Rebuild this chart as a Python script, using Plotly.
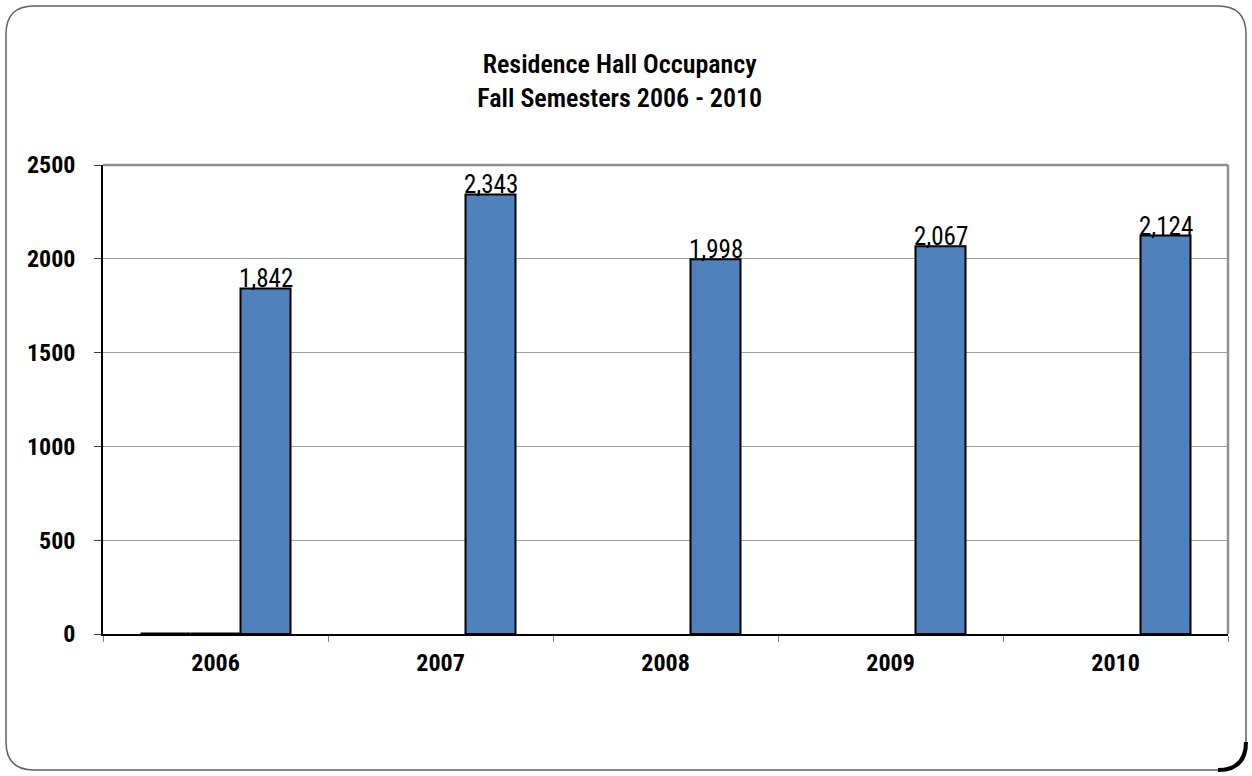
import plotly.graph_objects as go

years = ["2006", "2007", "2008", "2009", "2010"]
series_a = [0, None, None, None, None]
series_b = [0, None, None, None, None]
occupancy = [1842, 2343, 1998, 2067, 2124]
y_ticks = [0, 500, 1000, 1500, 2000, 2500]

FONT = "Liberation Sans Narrow, Arial Narrow, Roboto Condensed, sans-serif"
W, H = 1252, 776
L, R, T, B = 103, 1228, 165, 634


def px(x):
    return (x - L) / (R - L)


def py(y):
    return (B - y) / (B - T)


def rounded_rect(x0, y0, x1, y1, r):
    pts = [
        f"M {px(x0 + r)},{py(y0)}",
        f"L {px(x1 - r)},{py(y0)}",
        f"Q {px(x1)},{py(y0)} {px(x1)},{py(y0 + r)}",
        f"L {px(x1)},{py(y1 - r)}",
        f"Q {px(x1)},{py(y1)} {px(x1 - r)},{py(y1)}",
        f"L {px(x0 + r)},{py(y1)}",
        f"Q {px(x0)},{py(y1)} {px(x0)},{py(y1 - r)}",
        f"L {px(x0)},{py(y0 + r)}",
        f"Q {px(x0)},{py(y0)} {px(x0 + r)},{py(y0)}",
        "Z",
    ]
    return " ".join(pts)


def corner_br(x1, y1, r):
    return (f"M {px(x1 - r)},{py(y1)} "
            f"Q {px(x1)},{py(y1)} {px(x1)},{py(y1 - r)}")


fig = go.Figure()
line = dict(color="black", width=2)
fig.add_bar(x=years, y=series_a, marker=dict(color="#4F81BD", line=dict(color="black", width=3)),
            showlegend=False)
fig.add_bar(x=years, y=series_b, marker=dict(color="#4F81BD", line=dict(color="black", width=3)),
            showlegend=False)
fig.add_bar(
    x=years, y=occupancy,
    marker=dict(color="#4F81BD", line=line),
    showlegend=False,
)

n_series = 3
bar_gap = 1 / 3
group_w = 1 - bar_gap
third_offset = -group_w / 2 + group_w / n_series * 2.5  # center of third bar in category units

annotations = [
    dict(x=i + third_offset, y=v, xref="x", yref="y", text=f"{v:,}", showarrow=False,
         xanchor="center", yanchor="bottom", yshift=-7,
         font=dict(family=FONT, size=25, color="black"))
    for i, v in enumerate(occupancy)
]

fig.update_layout(
    width=W, height=H,
    margin=dict(l=L, r=W - R, t=T, b=H - B, pad=0),
    paper_bgcolor="white", plot_bgcolor="white",
    barmode="group", bargap=bar_gap, bargroupgap=0,
    font=dict(family=FONT, color="black"),
    title=dict(
        text="Residence Hall Occupancy<br>Fall Semesters 2006 - 2010",
        x=0.495, xanchor="center", y=1 - 73 / H, yanchor="middle",
        font=dict(family=FONT, size=26, color="black", weight=600),
    ),
    xaxis=dict(
        type="category", categoryorder="array", categoryarray=years,
        range=[-0.5, len(years) - 0.5],
        tickson="boundaries", ticks="outside", ticklen=6,
        tickcolor="#808080", tickwidth=1,
        showline=True, linecolor="black", linewidth=1.5,
        showgrid=False, tickfont=dict(family=FONT, size=24, color="black", weight="bold"),
        ticklabelstandoff=6, tickangle=0,
    ),
    yaxis=dict(
        range=[0, 2500], tickvals=y_ticks, ticktext=[str(v) for v in y_ticks],
        ticks="outside", ticklen=7, tickcolor="#404040",
        showline=True, linecolor="black", linewidth=1.5,
        showgrid=True, gridcolor="#A0A0A0", gridwidth=1,
        zeroline=False,
        tickfont=dict(family=FONT, size=24, color="black", weight="bold"),
        ticklabelstandoff=14,
    ),
    annotations=annotations,
    shapes=[
        dict(type="line", xref="paper", yref="paper", x0=0, x1=1, y0=1, y1=1,
             line=dict(color="#909090", width=2.5)),
        dict(type="line", xref="paper", yref="paper", x0=1, x1=1, y0=0, y1=1,
             line=dict(color="#909090", width=2.5)),
        dict(type="path", xref="paper", yref="paper",
             path=rounded_rect(6, 6, 1246, 770, 28),
             line=dict(color="#606060", width=1.5)),
        dict(type="path", xref="paper", yref="paper",
             path=corner_br(1246, 770, 28),
             line=dict(color="black", width=4)),
    ],
)

fig.write_html(
    "out.html",
    config={"displayModeBar": False},
    post_script="document.body.style.margin='0';document.body.style.overflow='hidden';",
)
